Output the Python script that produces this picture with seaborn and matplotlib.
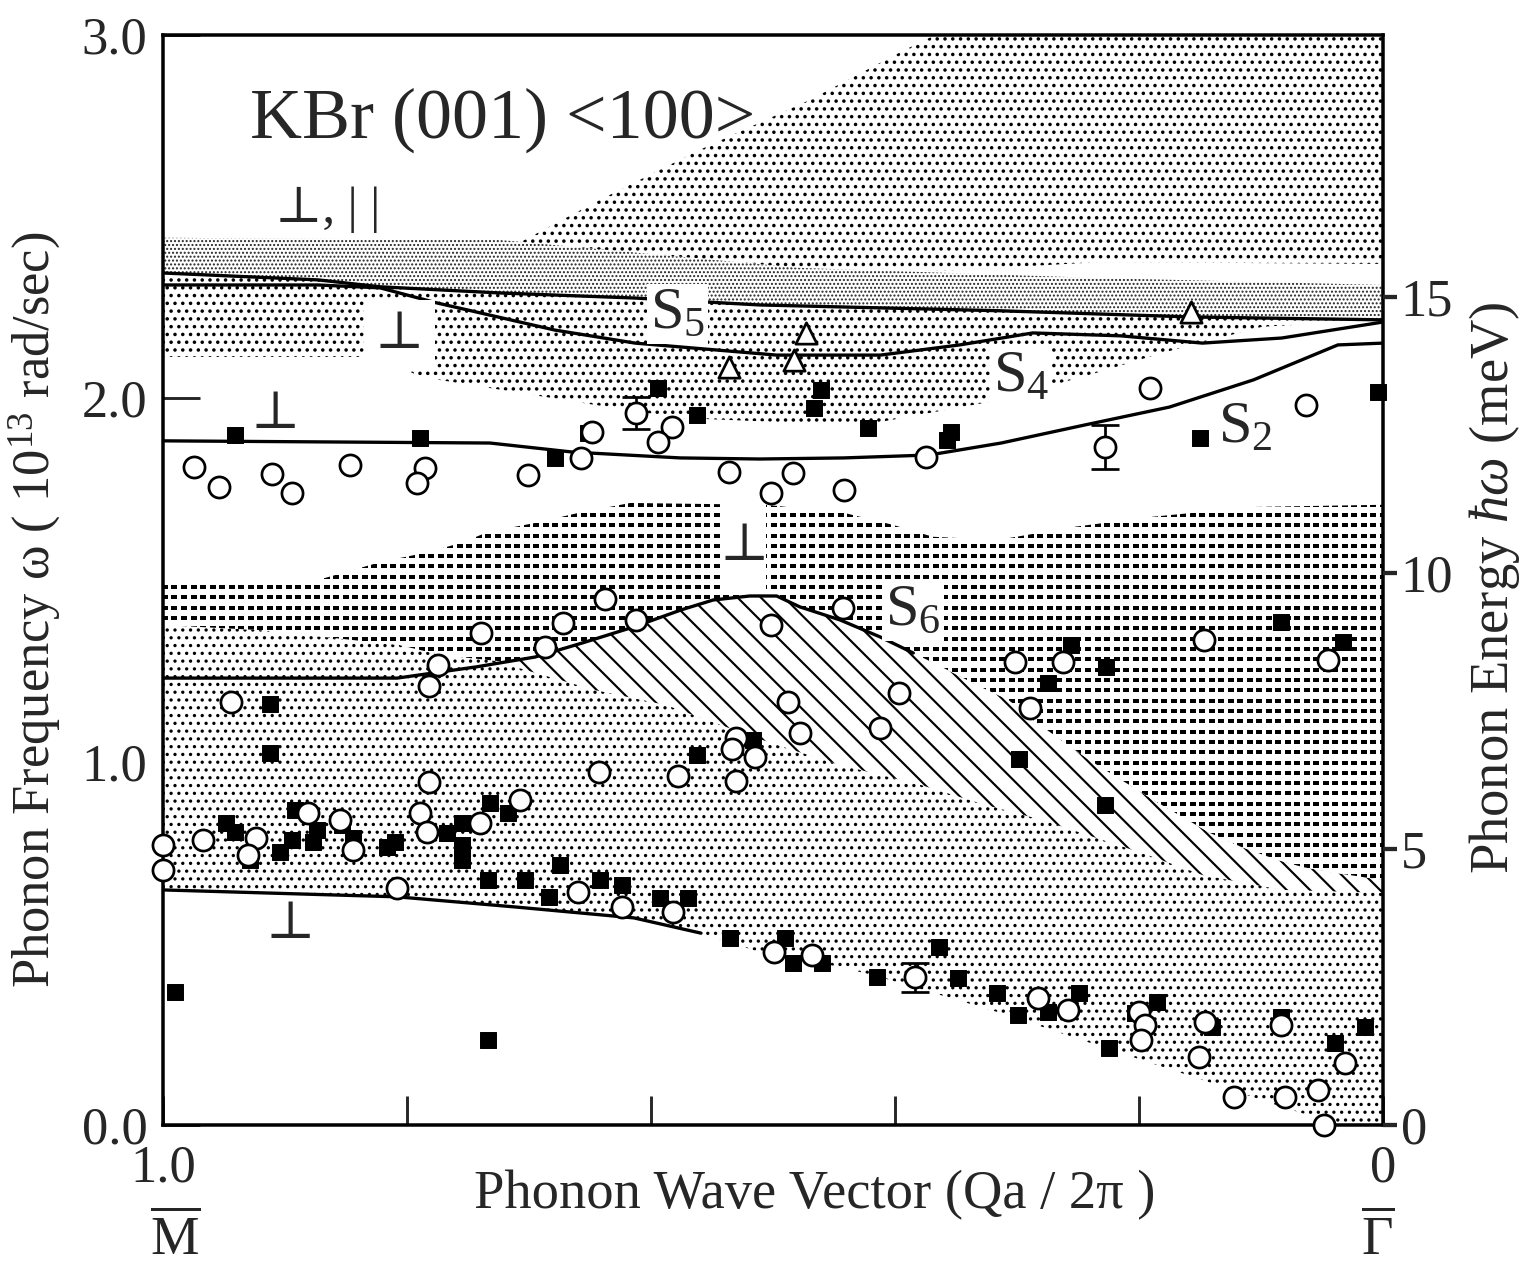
import numpy as np
import matplotlib
matplotlib.use("Agg")
import matplotlib.pyplot as plt
from matplotlib.path import Path
from matplotlib.patches import Rectangle
import seaborn as sns

# ---------------- values ----------------
# x = reduced wave vector Qa/2pi (1 at M-bar, 0 at Gamma-bar); y = omega (1e13 rad/s)
s5_x = [1.0, 0.873, 0.822, 0.724, 0.613, 0.511, 0.314, 0.158, 0.0]
s5_y = [2.345, 2.326, 2.307, 2.290, 2.276, 2.257, 2.241, 2.224, 2.216]

s4_x = [1.0, 0.873, 0.822, 0.776, 0.679, 0.613, 0.497, 0.412, 0.347, 0.287, 0.215, 0.148, 0.083, 0.0]
s4_y = [2.312, 2.312, 2.304, 2.263, 2.188, 2.152, 2.119, 2.119, 2.147, 2.180, 2.172, 2.152, 2.166, 2.210]

s2_x = [1.0, 0.732, 0.664, 0.576, 0.511, 0.442, 0.372, 0.313, 0.244, 0.175, 0.106, 0.037, 0.0]
s2_y = [1.883, 1.877, 1.852, 1.836, 1.833, 1.836, 1.844, 1.877, 1.927, 1.976, 2.051, 2.147, 2.152]

s6_x = [1.0, 0.808, 0.743, 0.695, 0.656, 0.614, 0.575, 0.549, 0.519, 0.497, 0.478, 0.445, 0.412, 0.385]
s6_y = [1.230, 1.230, 1.261, 1.288, 1.327, 1.371, 1.418, 1.445, 1.456, 1.456, 1.426, 1.390, 1.343, 1.299]

low_x = [1.0, 0.808, 0.711, 0.614, 0.559]
low_y = [0.647, 0.628, 0.600, 0.570, 0.528]

# bulk-band region boundaries
band_top_x = [1.0, 0.724, 0.478, 0.232, 0.0]
band_top_y = [2.442, 2.436, 2.359, 2.331, 2.312]

upper_top_x = [0.707, 0.642, 0.560, 0.470, 0.392, 0.367, 0.0]
upper_top_y = [2.430, 2.546, 2.684, 2.821, 2.959, 3.0, 3.0]
upper_bot_x = [0.707, 0.478, 0.355, 0.232, 0.0]
upper_bot_y = [2.430, 2.359, 2.352, 2.375, 2.370]

mid_bot_x = [1.0, 0.822, 0.789, 0.646, 0.576, 0.497, 0.412, 0.313, 0.232, 0.181, 0.099, 0.0]
mid_bot_y = [2.114, 2.114, 2.059, 1.982, 1.946, 1.935, 1.935, 1.996, 2.073, 2.125, 2.197, 2.216]

dash_top_x = [1.0, 0.873, 0.821, 0.782, 0.753, 0.734, 0.695, 0.659, 0.617, 0.506, 0.442, 0.402,
              0.369, 0.316, 0.254, 0.189, 0.106, 0.0]
dash_top_y = [1.500, 1.500, 1.550, 1.577, 1.605, 1.632, 1.657, 1.685, 1.712, 1.707, 1.685, 1.652,
              1.619, 1.610, 1.646, 1.674, 1.701, 1.707]
dash_bot_x = [1.0, 0.920, 0.806, 0.773, 0.717, 0.695, 0.656, 0.614, 0.575, 0.549, 0.519, 0.497,
              0.478, 0.445, 0.412, 0.385, 0.362, 0.330, 0.307, 0.287, 0.241, 0.184, 0.142, 0.116,
              0.086, 0.066, 0.043, 0.0]
dash_bot_y = [1.376, 1.362, 1.321, 1.294, 1.274, 1.288, 1.327, 1.371, 1.418, 1.445, 1.456, 1.456,
              1.426, 1.390, 1.343, 1.299, 1.261, 1.206, 1.170, 1.115, 1.005, 0.886, 0.804, 0.765,
              0.729, 0.710, 0.696, 0.674]

hatch_bot_x = [0.717, 0.646, 0.588, 0.543, 0.497, 0.445, 0.379, 0.326, 0.280, 0.198, 0.148, 0.083, 0.0]
hatch_bot_y = [1.266, 1.197, 1.156, 1.101, 1.046, 0.991, 0.936, 0.881, 0.840, 0.749, 0.688, 0.647, 0.639]

edge_x = [0.511, 0.445, 0.412, 0.313, 0.215, 0.148, 0.083, 0.035, 0.0]
edge_y = [0.476, 0.435, 0.407, 0.308, 0.198, 0.124, 0.050, 0.0, 0.0]

# measured points
circ_x = [0.975, 0.954, 0.911, 0.894, 0.847, 0.785, 0.792, 0.701, 0.657, 0.648, 0.583, 0.594, 0.536,
          0.502, 0.484, 0.442, 0.375, 0.191, 0.063,
          0.944, 0.782, 0.775, 0.739, 0.687, 0.672, 0.638, 0.612, 0.502, 0.443, 0.397, 0.488, 0.478,
          0.412, 0.302, 0.262, 0.289, 0.147, 0.045,
          0.530, 0.534, 0.515, 0.530, 0.643, 0.578, 0.782,
          1.0, 1.0, 0.967, 0.924, 0.930, 0.881, 0.855, 0.844, 0.789, 0.784, 0.740, 0.707, 0.808,
          0.660, 0.624, 0.582,
          0.499, 0.468, 0.283, 0.258, 0.200, 0.195, 0.198, 0.146, 0.151, 0.084, 0.031, 0.122,
          0.080, 0.053, 0.048]
circ_y = [1.811, 1.756, 1.792, 1.740, 1.817, 1.808, 1.767, 1.789, 1.836, 1.907, 1.921, 1.880, 1.797,
          1.740, 1.795, 1.748, 1.839, 2.029, 1.982,
          1.164, 1.208, 1.266, 1.354, 1.316, 1.382, 1.448, 1.390, 1.376, 1.423, 1.189, 1.164, 1.079,
          1.093, 1.274, 1.274, 1.148, 1.335, 1.280,
          1.065, 1.035, 1.013, 0.947, 0.972, 0.961, 0.944,
          0.771, 0.702, 0.784, 0.790, 0.743, 0.859, 0.840, 0.757, 0.859, 0.807, 0.831, 0.895, 0.652,
          0.641, 0.600, 0.586,
          0.476, 0.468, 0.350, 0.317, 0.311, 0.275, 0.234, 0.284, 0.187, 0.275, 0.171, 0.077,
          0.077, 0.096, 0.0]

sq_x = [0.941, 0.789, 0.679, 0.652, 0.594, 0.562, 0.461, 0.466, 0.422, 0.354, 0.357, 0.150, 0.004,
        0.912, 0.912, 0.516, 0.562, 0.256, 0.227, 0.275, 0.298, 0.228, 0.084, 0.033,
        0.948, 0.941, 0.929, 0.892, 0.904, 0.894, 0.874, 0.877, 0.853, 0.844, 0.816, 0.810, 0.767,
        0.755, 0.755, 0.755, 0.734, 0.732, 0.717, 0.703, 0.684, 0.675, 0.642, 0.624, 0.593, 0.570,
        0.535, 0.490,
        0.484, 0.460, 0.415, 0.364, 0.348, 0.316, 0.299, 0.275, 0.249, 0.225, 0.203, 0.185, 0.140,
        0.084, 0.039, 0.015, 0.990, 0.734]
sq_y = [1.899, 1.891, 1.836, 1.905, 2.029, 1.954, 2.023, 1.974, 1.919, 1.907, 1.885, 1.891, 2.018,
        1.159, 1.024, 1.060, 1.018, 1.321, 1.261, 1.217, 1.007, 0.881, 1.385, 1.329,
        0.831, 0.807, 0.729, 0.867, 0.751, 0.784, 0.812, 0.779, 0.826, 0.790, 0.765, 0.779, 0.804,
        0.831, 0.771, 0.729, 0.674, 0.886, 0.859, 0.674, 0.628, 0.716, 0.674, 0.661, 0.625, 0.625,
        0.515, 0.515,
        0.446, 0.446, 0.407, 0.490, 0.405, 0.363, 0.303, 0.311, 0.363, 0.212, 0.308, 0.339, 0.270,
        0.297, 0.226, 0.270, 0.366, 0.234]

tri_x = [0.536, 0.483, 0.473, 0.157]
tri_y = [2.086, 2.106, 2.180, 2.238]

err_x = [0.612, 0.228, 0.384]
err_y = [1.960, 1.866, 0.407]
err_e = [0.045, 0.060, 0.040]

OMEGA_PER_MEV = 0.15193  # 1 meV in 1e13 rad/s

# ---------------- figure ----------------
sns.set_style("white")
plt.rcParams["font.family"] = ["Liberation Serif", "DejaVu Serif", "DejaVu Sans"]
plt.rcParams["mathtext.fontset"] = "custom"
plt.rcParams["mathtext.rm"] = "Liberation Serif"
plt.rcParams["mathtext.it"] = "Liberation Serif:italic"
plt.rcParams["hatch.linewidth"] = 1.0

DPI = 140
fig = plt.figure(figsize=(1525 / DPI, 1277 / DPI), dpi=DPI, facecolor="white")
ax = fig.add_axes([163 / 1525, 1 - 1125 / 1277, 1220 / 1525, 1090 / 1277])
ax.set_xlim(1.0, 0.0)
ax.set_ylim(0.0, 3.0)


def region(xt, yt, xb, yb, hatch, ec="black", z=1.0, hlw=1.0):
    xs = np.r_[np.asarray(xt), np.asarray(xb)[::-1]]
    ys = np.r_[np.asarray(yt), np.asarray(yb)[::-1]]
    with plt.rc_context({"hatch.linewidth": hlw}):
        p, = ax.fill(xs, ys, facecolor="white", edgecolor=ec, hatch=hatch, linewidth=0, zorder=z)
    if hasattr(p, "set_hatch_linewidth"):
        p.set_hatch_linewidth(hlw)
    return p


# lower dotted bulk region
region(dash_bot_x, dash_bot_y, low_x + edge_x, low_y + edge_y, "...", z=1.0, hlw=0.9)
# diagonal hatched region
region(dash_bot_x[4:], dash_bot_y[4:], hatch_bot_x, hatch_bot_y, "\\\\", z=1.1, hlw=1.1)
# dashed region (texture of short horizontal dashes)
pD = region(dash_top_x, dash_top_y, dash_bot_x, dash_bot_y, "", z=1.2)
dash_marker = Path([(-1.0, -0.65), (1.0, -0.65), (1.0, 0.65), (-1.0, 0.65), (-1.0, -0.65)],
                   [Path.MOVETO, Path.LINETO, Path.LINETO, Path.LINETO, Path.CLOSEPOLY])
gx, gy = np.meshgrid(np.arange(0.0, 1.0, 0.0078), np.arange(0.6, 1.75, 0.0284))
tex, = ax.plot(gx.ravel(), gy.ravel(), ls="none", marker=dash_marker, ms=2.9, mew=0,
               color="black", zorder=1.25)
tex.set_clip_path(pD)
# middle dotted region below S5
region(s5_x, s5_y, mid_bot_x, mid_bot_y, "...", z=1.0, hlw=1.0)
# upper dotted bulk region
region(upper_top_x, upper_top_y, upper_bot_x, upper_bot_y, "...", z=1.0, hlw=1.0)
# dense grey band
region(band_top_x, band_top_y, s5_x, s5_y, "......", ec="#222222", z=1.05, hlw=0.7)

# white gap around the perpendicular label inside the dashed region
ax.add_patch(Rectangle((0.506, 1.473), 0.037, 0.247, facecolor="white", edgecolor="none",
                       zorder=1.3))

# dispersion curves
for cx, cy in [(s5_x, s5_y), (s4_x, s4_y), (s2_x, s2_y), (s6_x, s6_y), (low_x, low_y)]:
    sns.lineplot(x=cx, y=cy, sort=False, estimator=None, color="black", lw=1.7, ax=ax, zorder=3)

# error bars
ax.errorbar(err_x, err_y, yerr=err_e, fmt="none", ecolor="black", elinewidth=1.4,
            capsize=7, capthick=1.4, zorder=3.5)

# data points
sns.scatterplot(x=sq_x, y=sq_y, marker="s", s=72, color="black", edgecolor="black",
                linewidth=0.5, ax=ax, zorder=4, clip_on=False)
sns.scatterplot(x=circ_x + err_x, y=circ_y + err_y, marker="o", s=118, color="white",
                edgecolor="black", linewidth=1.4, ax=ax, zorder=4.5, clip_on=False)
sns.scatterplot(x=tri_x, y=tri_y, marker="^", s=120, color="white", edgecolor="black",
                linewidth=1.4, ax=ax, zorder=4.5, clip_on=False)

# text annotations
fam = ["Liberation Serif", "DejaVu Serif", "DejaVu Sans"]
ax.text(0.929, 2.766, "KBr (001) <100>", fontsize=37, ha="left", va="center", zorder=6)
ax.text(0.908, 2.519, "⊥, | |", fontsize=26, ha="left", va="center", family=fam, zorder=6)
white = dict(boxstyle="square,pad=0.2", fc="white", ec="none")
ax.text(0.806, 2.175, "⊥", fontsize=27, ha="center", va="center", family=fam, zorder=6, bbox=white)
ax.text(0.908, 1.954, "⊥", fontsize=27, ha="center", va="center", family=fam, zorder=6)
ax.text(0.524, 1.591, "⊥", fontsize=27, ha="center", va="center", family=fam, zorder=6)
ax.text(0.896, 0.551, "⊥", fontsize=27, ha="center", va="center", family=fam, zorder=6)

lab = dict(fontsize=31, ha="left", va="baseline", zorder=6,
           bbox=dict(boxstyle="square,pad=0.05", fc="white", ec="none"))
ax.text(0.601, 2.194, r"S$_{5}$", **lab)
ax.text(0.320, 2.018, r"S$_{4}$", **lab)
ax.text(0.135, 1.877, r"S$_{2}$", **lab)
ax.text(0.408, 1.376, r"S$_{6}$", **lab)

# axes styling
for sp in ax.spines.values():
    sp.set_linewidth(1.8)
    sp.set_color("black")
ax.set_yticks([0, 1, 2, 3])
ax.set_yticklabels(["0.0", "1.0", "2.0", "3.0"])
ax.set_xticks([1.0, 0.8, 0.6, 0.4, 0.2, 0.0])
ax.set_xticklabels(["1.0", "", "", "", "", "0"])
ax.tick_params(axis="y", direction="in", length=19, width=1.5, labelsize=27, pad=8,
               left=True, right=False)
ax.tick_params(axis="x", direction="in", length=15, width=1.5, labelsize=27, pad=10,
               bottom=True, top=False)
ax.set_xlabel("")
ax.set_ylabel("")

ax2 = ax.twinx()
ax2.set_ylim(0, 3.0 / OMEGA_PER_MEV)
ax2.set_yticks([0, 5, 10, 15])
ax2.set_yticklabels(["0", "5", "10", "15"])
ax2.tick_params(axis="y", direction="out", length=7, width=2.2, labelsize=27, pad=2)
for sp in ax2.spines.values():
    sp.set_visible(False)

fig.text(815 / 1525, 1 - 1195 / 1277, "Phonon Wave Vector (Qa / 2π )", fontsize=28,
         ha="center", va="center")
fig.text(35 / 1525, 1 - 610 / 1277, r"Phonon Frequency ω ( 10$^{13}$ rad/sec)", fontsize=27,
         rotation=90, ha="center", va="center")
fig.text(1495 / 1525, 1 - 588 / 1277, r"Phonon Energy $\hbar\omega$ (meV)", fontsize=28,
         rotation=90, ha="center", va="center")
fig.text(175 / 1525, 1 - 1240 / 1277, r"$\overline{\mathrm{M}}$", fontsize=28,
         ha="center", va="center")
fig.text(1378 / 1525, 1 - 1240 / 1277, r"$\overline{\Gamma}$", fontsize=28,
         ha="center", va="center")

fig.savefig("out.png", dpi=DPI, facecolor="white")
